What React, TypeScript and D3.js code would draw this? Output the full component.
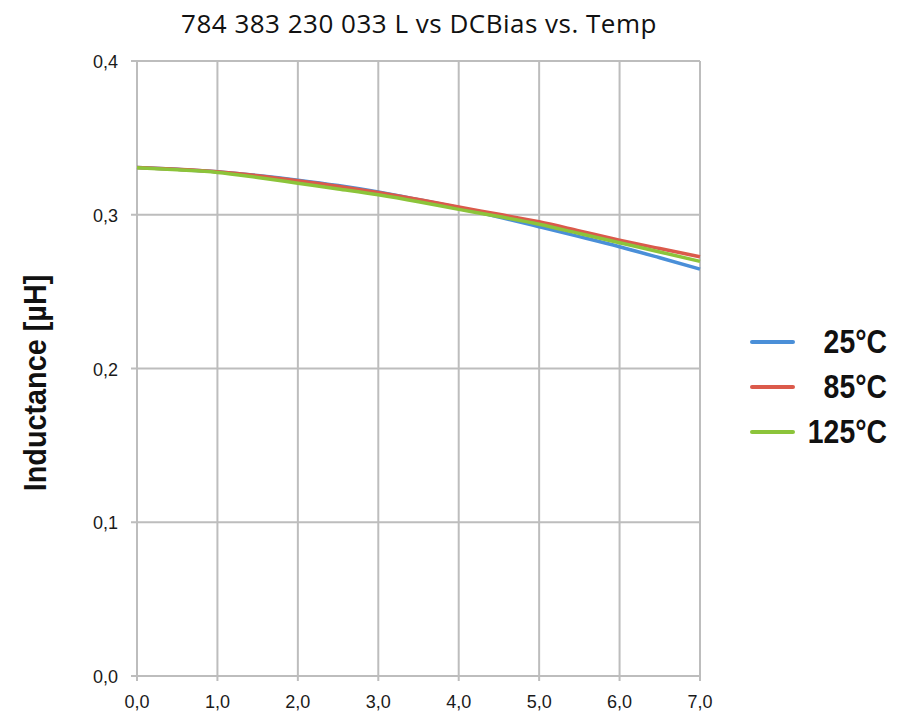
import React, { useEffect, useRef } from 'react';
import * as d3 from 'd3';

// DC bias current [A] and inductance [µH]
const bias = [0, 0.5, 1, 1.5, 2, 2.5, 3, 3.5, 4, 4.5, 5, 5.5, 6, 6.5, 7];
const l25 = [0.3308, 0.3296, 0.328, 0.3255, 0.3225, 0.319, 0.3148, 0.3098, 0.3045, 0.2985, 0.2922, 0.2858, 0.2792, 0.272, 0.2646];
const l85 = [0.3308, 0.3296, 0.328, 0.3254, 0.3222, 0.3186, 0.3145, 0.31, 0.305, 0.3003, 0.2954, 0.2895, 0.2835, 0.278, 0.2727];
const l125 = [0.3305, 0.3292, 0.3275, 0.3242, 0.3205, 0.3168, 0.313, 0.3085, 0.3035, 0.2988, 0.2938, 0.2878, 0.2818, 0.2758, 0.2697];

const xTicks = [0, 1, 2, 3, 4, 5, 6, 7];
const yTicks = [0, 0.1, 0.2, 0.3, 0.4];

const series = [
  { name: '25°C', values: l25, color: '#4a8fd8' },
  { name: '85°C', values: l85, color: '#db5a4b' },
  { name: '125°C', values: l125, color: '#8cc43a' },
];

const App = () => {
  const svgRef = useRef<SVGSVGElement>(null);

  useEffect(() => {
    const svg = d3.select(svgRef.current);
    svg.selectAll('*').remove();

    const width = 910;
    const height = 721;
    const margin = { top: 61, left: 137, right: 210, bottom: 45 };
    const plotW = 700 - margin.left;
    const plotH = 676 - margin.top;

    const x = d3.scaleLinear().domain([0, 7]).range([0, plotW]);
    const y = d3.scaleLinear().domain([0, 0.4]).range([plotH, 0]);

    svg.attr('width', width).attr('height', height);

    // title
    svg.append('text')
      .attr('x', 419)
      .attr('y', 33)
      .attr('text-anchor', 'middle')
      .style('font-family', '"Open Sans", sans-serif')
      .style('font-size', '26px')
      .style('letter-spacing', '0.5px')
      .style('fill', '#111')
      .text('784 383 230 033 L vs DCBias vs. Temp');

    const g = svg.append('g').attr('transform', `translate(${margin.left},${margin.top})`);

    // grid lines (extend a little past the frame like tick marks)
    g.append('g')
      .selectAll('line')
      .data(xTicks)
      .enter()
      .append('line')
      .attr('x1', (d) => x(d))
      .attr('x2', (d) => x(d))
      .attr('y1', 0)
      .attr('y2', plotH + 5)
      .attr('stroke', '#bdbdbd')
      .attr('stroke-width', 2);

    g.append('g')
      .selectAll('line')
      .data(yTicks)
      .enter()
      .append('line')
      .attr('x1', -6)
      .attr('x2', plotW)
      .attr('y1', (d) => y(d))
      .attr('y2', (d) => y(d))
      .attr('stroke', '#bdbdbd')
      .attr('stroke-width', 2);

    // tick labels
    const fmt = (d: number) => d3.format('.1f')(d).replace('.', ',');
    g.append('g')
      .selectAll('text')
      .data(xTicks)
      .enter()
      .append('text')
      .attr('x', (d) => x(d))
      .attr('y', plotH + 32)
      .attr('text-anchor', 'middle')
      .style('font-family', '"Liberation Sans", Arial, sans-serif')
      .style('font-size', '18px')
      .style('fill', '#1a1a1a')
      .text((d) => fmt(d));

    g.append('g')
      .selectAll('text')
      .data(yTicks)
      .enter()
      .append('text')
      .attr('x', -19)
      .attr('y', (d) => y(d) + 7)
      .attr('text-anchor', 'end')
      .style('font-family', '"Liberation Sans", Arial, sans-serif')
      .style('font-size', '18px')
      .style('fill', '#1a1a1a')
      .text((d) => fmt(d));

    // y axis title (condensed bold look via horizontal scaling)
    svg.append('text')
      .attr('transform', 'translate(46,383) rotate(-90) scale(0.9,1)')
      .attr('text-anchor', 'middle')
      .style('font-family', '"Liberation Sans", Arial, sans-serif')
      .style('font-size', '32px')
      .style('font-weight', 'bold')
      .style('fill', '#111')
      .text('Inductance [µH]');

    // curves
    const line = d3.line<number>()
      .x((_, i) => x(bias[i]))
      .y((d) => y(d))
      .curve(d3.curveMonotoneX);

    g.selectAll('.curve')
      .data(series)
      .enter()
      .append('path')
      .attr('class', 'curve')
      .attr('d', (d) => line(d.values))
      .attr('fill', 'none')
      .attr('stroke', (d) => d.color)
      .attr('stroke-width', 3.5);

    // legend
    const leg = svg.append('g');
    series.forEach((s, i) => {
      const ly = 342 + i * 45;
      leg.append('line')
        .attr('x1', 752)
        .attr('x2', 793)
        .attr('y1', ly)
        .attr('y2', ly)
        .attr('stroke', s.color)
        .attr('stroke-width', 4)
        .attr('stroke-linecap', 'round');
      leg.append('text')
        .attr('transform', `translate(887,${ly + 11}) scale(0.86,1)`)
        .attr('text-anchor', 'end')
        .style('font-family', '"Liberation Sans", Arial, sans-serif')
        .style('font-size', '33px')
        .style('font-weight', 'bold')
        .style('fill', '#111')
        .text(s.name);
    });
  }, []);

  return <svg ref={svgRef} style={{ position: 'absolute', left: 0, top: 0 }}></svg>;
};

export default App;
